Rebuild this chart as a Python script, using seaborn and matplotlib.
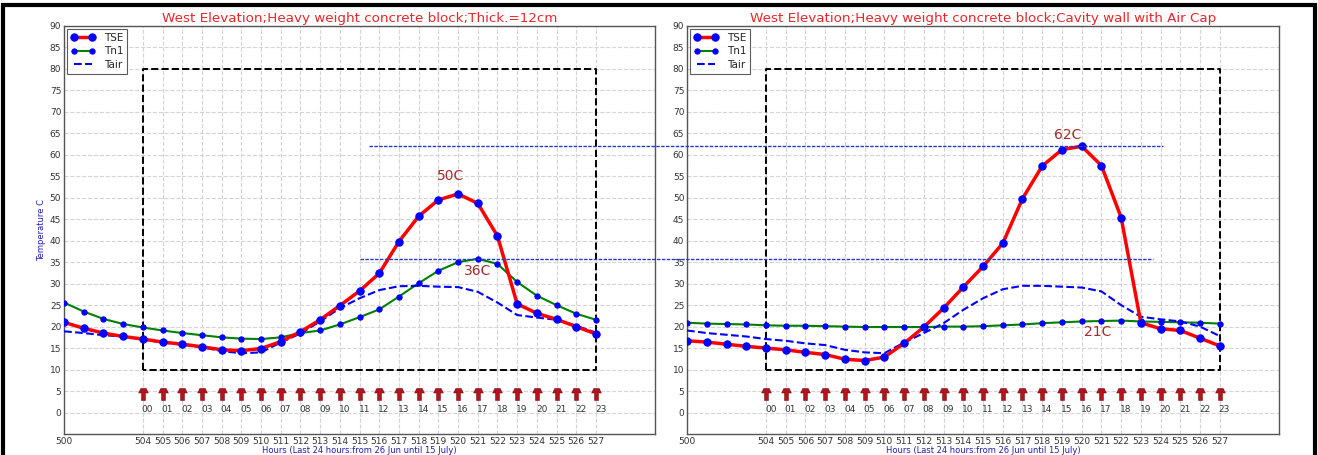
import numpy as np
import matplotlib
matplotlib.use("Agg")
import matplotlib.pyplot as plt
import seaborn as sns
from matplotlib.path import Path
from matplotlib.patches import Rectangle
from matplotlib.lines import Line2D

# hours on the x axis (one reading per hour)
hours = list(range(500, 528))
hour_labels = ["%02d" % i for i in range(24)]
label_hours = list(range(504, 528))
xticks = [500] + list(range(504, 528))

# left panel: Thick.=12cm
tse_left = [21.0, 19.6, 18.5, 17.7, 17.1, 16.4, 15.9, 15.3, 14.6, 14.4,
            14.9, 16.5, 18.8, 21.6, 24.9, 28.3, 32.4, 39.8, 45.7, 49.5,
            50.9, 48.7, 41.1, 25.3, 23.1, 21.7, 20.0, 18.3]
tn1_left = [25.6, 23.5, 21.8, 20.6, 19.8, 19.1, 18.5, 18.0, 17.5, 17.2,
            17.1, 17.5, 18.5, 19.1, 20.5, 22.2, 24.0, 27.0, 30.1, 33.0,
            35.0, 35.8, 34.6, 30.4, 27.2, 25.0, 23.0, 21.6]
tair_left = [18.9, 18.5, 18.0, 17.7, 17.0, 16.3, 15.8, 15.2, 14.3, 13.8,
             14.0, 16.3, 18.4, 21.2, 24.3, 26.6, 28.5, 29.4, 29.5, 29.3,
             29.2, 28.1, 25.6, 22.7, 22.1, 21.6, 20.2, 18.6]

# right panel: Cavity wall with Air Cap
tse_right = [16.7, 16.4, 15.9, 15.4, 15.0, 14.6, 14.0, 13.5, 12.4, 12.1,
             12.9, 16.1, 19.9, 24.3, 29.2, 34.0, 39.4, 49.8, 57.4, 61.2,
             62.0, 57.5, 45.4, 20.9, 19.5, 19.1, 17.3, 15.5]
tn1_right = [20.9, 20.7, 20.6, 20.5, 20.3, 20.2, 20.2, 20.1, 20.0, 19.9,
             19.9, 19.9, 19.9, 20.0, 20.0, 20.1, 20.3, 20.5, 20.8, 21.0,
             21.2, 21.3, 21.4, 21.2, 21.1, 21.0, 20.9, 20.7]
tair_right = [19.1, 18.5, 18.1, 17.7, 17.1, 16.7, 16.1, 15.7, 14.6, 14.0,
              13.8, 16.3, 18.5, 20.8, 23.9, 26.6, 28.7, 29.5, 29.5, 29.3,
              29.1, 28.2, 25.0, 22.3, 21.7, 21.2, 20.0, 17.8]

titles = ["West Elevation;Heavy weight concrete block;Thick.=12cm",
          "West Elevation;Heavy weight concrete block;Cavity wall with Air Cap"]
notes_left = [("50C", 519.6, 53.4), ("36C", 521.0, 31.4)]
notes_right = [("62C", 519.3, 63.0), ("21C", 520.8, 17.0)]

# comparison levels drawn across both panels (in left panel data coords)
ref_levels = [62.0, 35.7]
ref_start = [515.5, 515.0]
ref_end = [555.8, 555.3]

# daytime box
box_x = [504, 527]
box_y = [10, 80]

sns.set_style("whitegrid", {"grid.linestyle": "--", "grid.color": "#d4d4d4"})
plt.rcParams["font.family"] = ["DejaVu Sans"]

# arrow-like marker for the hour row
arrow = Path([(-0.32, -1.0), (0.32, -1.0), (0.32, 0.25), (0.8, 0.25), (0.45, 1.0),
              (-0.45, 1.0), (-0.8, 0.25), (-0.32, 0.25), (-0.32, -1.0)],
             [Path.MOVETO] + [Path.LINETO] * 7 + [Path.CLOSEPOLY])


def draw_panel(ax, tse, tn1, tair, title, notes, show_ylabel):
    sns.lineplot(x=hours, y=tse, ax=ax, color="red", lw=2.5, marker="o",
                 markersize=5.3, markerfacecolor="blue", markeredgecolor="blue",
                 label="TSE", zorder=4)
    sns.lineplot(x=hours, y=tn1, ax=ax, color="green", lw=1.5, marker="o",
                 markersize=3.8, markerfacecolor="blue", markeredgecolor="blue",
                 label="Tn1", zorder=3)
    sns.lineplot(x=hours, y=tair, ax=ax, color="blue", lw=1.5, ls="--",
                 label="Tair", zorder=3)

    # dashed box around last 24 hours
    ax.plot([box_x[0], box_x[0], box_x[1], box_x[1], box_x[0]],
            [box_y[0], box_y[1], box_y[1], box_y[0], box_y[0]],
            color="black", ls="--", lw=1.4, zorder=2)

    ax.scatter(label_hours, [4.3] * len(label_hours), marker=arrow, s=75,
               color="#b0141c", edgecolor="#7a0a10", linewidth=0.4, zorder=3)
    for h, lab in zip(label_hours, hour_labels):
        ax.text(h - 0.05, 0.6, lab, ha="left", va="center", fontsize=6.5,
                color="#333333")

    for txt, x, y in notes:
        ax.text(x, y, txt, ha="center", va="bottom", fontsize=10, color="#a52a2a")

    ax.set_xlim(500, 530)
    ax.set_ylim(-5, 90)
    ax.set_xticks(xticks)
    ax.set_yticks(range(0, 91, 5))
    ax.tick_params(labelsize=6.5, colors="#333333", length=3, direction="in", pad=2)
    ax.set_title(title, color="#e8262a", fontsize=9.7, pad=3)
    ax.set_xlabel("Hours (Last 24 hours:from 26 Jun until 15 July)", fontsize=6,
                  color="#2020b0", labelpad=0)
    if show_ylabel:
        ax.set_ylabel("Temperature C", fontsize=6, color="#2020b0", labelpad=3)
    for sp in ax.spines.values():
        sp.set_color("#555555")
        sp.set_linewidth(1.0)
    leg = ax.legend(loc="upper left", fontsize=7.5, numpoints=2, fancybox=False,
                    handlelength=2.3, borderpad=0.35, labelspacing=0.35,
                    borderaxespad=0.3, handletextpad=0.9)
    leg.get_frame().set_edgecolor("#333333")
    leg.get_frame().set_linewidth(0.8)


fig = plt.figure(figsize=(13.18, 4.55), dpi=100)
ax1 = fig.add_axes([0.0486, 0.0462, 0.4484, 0.8967])
ax2 = fig.add_axes([0.5213, 0.0462, 0.4491, 0.8967])

draw_panel(ax1, tse_left, tn1_left, tair_left, titles[0], notes_left, True)
draw_panel(ax2, tse_right, tn1_right, tair_right, titles[1], notes_right, False)

# level lines run over both panels, so they belong to the figure
for lvl, x0, x1 in zip(ref_levels, ref_start, ref_end):
    fig.add_artist(Line2D([x0, x1], [lvl, lvl], transform=ax1.transData,
                          color="#2838c8", lw=1.0, ls=(0, (2.5, 1)), zorder=5))

# frame around the whole picture
fig.patches.append(Rectangle((0.002, -0.05), 0.996, 1.04, transform=fig.transFigure,
                             fill=False, edgecolor="black", lw=3))

fig.savefig("out.png", dpi=100)
